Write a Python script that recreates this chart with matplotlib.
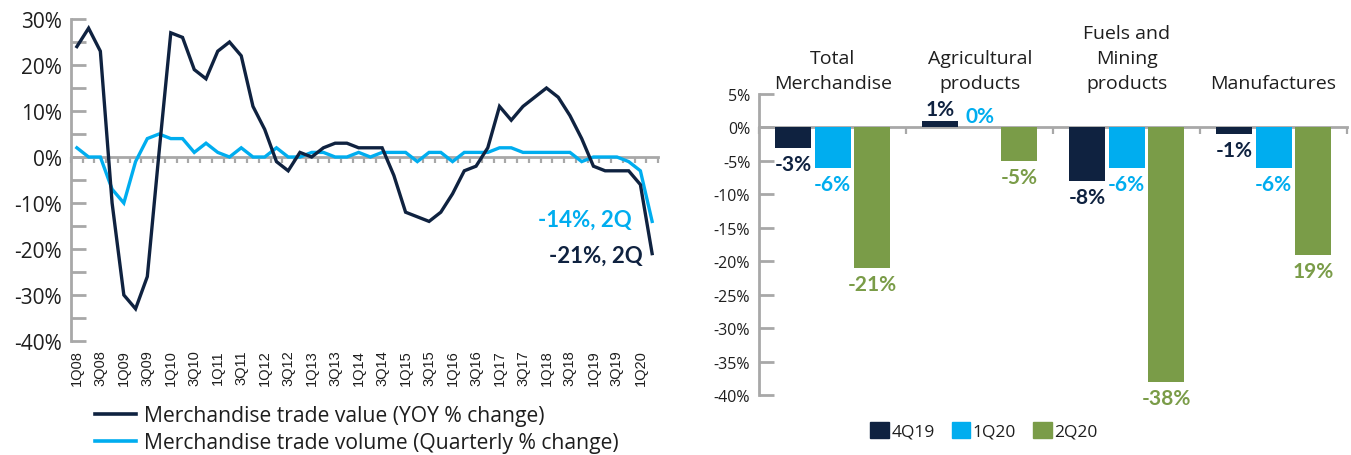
import matplotlib
matplotlib.use("Agg")
import matplotlib.pyplot as plt
import numpy as np
from matplotlib.ticker import MultipleLocator, FixedLocator, FuncFormatter, NullFormatter
from matplotlib.lines import Line2D
from matplotlib.patches import Patch

# ---------------- data ----------------
quarters = ["1Q08", "2Q08", "3Q08", "4Q08", "1Q09", "2Q09", "3Q09", "4Q09",
            "1Q10", "2Q10", "3Q10", "4Q10", "1Q11", "2Q11", "3Q11", "4Q11",
            "1Q12", "2Q12", "3Q12", "4Q12", "1Q13", "2Q13", "3Q13", "4Q13",
            "1Q14", "2Q14", "3Q14", "4Q14", "1Q15", "2Q15", "3Q15", "4Q15",
            "1Q16", "2Q16", "3Q16", "4Q16", "1Q17", "2Q17", "3Q17", "4Q17",
            "1Q18", "2Q18", "3Q18", "4Q18", "1Q19", "2Q19", "3Q19", "4Q19",
            "1Q20", "2Q20"]
value_yoy = [24, 28, 23, -10, -30, -33, -26, 1,
             27, 26, 19, 17, 23, 25, 22, 11,
             6, -1, -3, 1, 0, 2, 3, 3,
             2, 2, 2, -4, -12, -13, -14, -12,
             -8, -3, -2, 2, 11, 8, 11, 13,
             15, 13, 9, 4, -2, -3, -3, -3,
             -6, -21]
volume_qoq = [2, 0, 0, -7, -10, -1, 4, 5,
              4, 4, 1, 3, 1, 0, 2, 0,
              0, 2, 0, 0, 1, 1, 0, 0,
              1, 0, 1, 1, 1, -1, 1, 1,
              -1, 1, 1, 1, 2, 2, 1, 1,
              1, 1, 1, -1, 0, 0, 0, -1,
              -3, -14]
line_labels = ["Merchandise trade value (YOY % change)",
               "Merchandise trade volume (Quarterly % change)"]
end_labels = ["-21%, 2Q", "-14%, 2Q"]

categories = ["Total\nMerchandise", "Agricultural\nproducts",
              "Fuels and\nMining\nproducts", "Manufactures"]
periods = ["4Q19", "1Q20", "2Q20"]
bars_4q19 = [-3, 1, -8, -1]
bars_1q20 = [-6, 0, -6, -6]
bars_2q20 = [-21, -5, -38, -19]
text_4q19 = ["-3%", "1%", "-8%", "-1%"]
text_1q20 = ["-6%", "0%", "-6%", "-6%"]
text_2q20 = ["-21%", "-5%", "-38%", "19%"]

# ---------------- style ----------------
NAVY = "#0f2240"
CYAN = "#00adef"
GREEN = "#7a9c48"
GRAY = "#a8a8a8"
TXT = "#1e1e1e"
REG = ["Open Sans", "DejaVu Sans"]
BOLD = ["Lato", "DejaVu Sans"]
plt.rcParams["font.family"] = REG
plt.rcParams["text.color"] = TXT

W, H = 1351, 456
fig = plt.figure(figsize=(W / 100, H / 100), dpi=100)


def rect(x0, y0, x1, y1):
    return [x0 / W, 1 - y1 / H, (x1 - x0) / W, (y1 - y0) / H]


pct = FuncFormatter(lambda v, p: f"{v:.0f}%")

# ---------------- left: lines ----------------
ax1 = fig.add_axes(rect(71, 20, 658, 342))
xq = np.arange(len(quarters))
ax1.plot(xq, volume_qoq, color=CYAN, lw=2.4, solid_joinstyle="miter", zorder=3)
ax1.plot(xq, value_yoy, color=NAVY, lw=2.4, solid_joinstyle="miter", zorder=4)
ax1.set_xlim(-0.5, len(quarters) - 0.5)
ax1.set_ylim(-40, 30)
for s in ["top", "right", "bottom"]:
    ax1.spines[s].set_visible(False)
ax1.spines["left"].set_color(GRAY)
ax1.spines["left"].set_linewidth(2)
ax1.yaxis.set_major_locator(MultipleLocator(10))
ax1.yaxis.set_minor_locator(MultipleLocator(5))
ax1.yaxis.set_major_formatter(pct)
ax1.tick_params(axis="y", which="both", direction="in", length=10.8, width=2,
                color=GRAY, pad=6.5, labelsize=15, labelcolor=TXT)
ax1.set_xticks(xq[::2])
ax1.set_xticklabels(quarters[::2], rotation=90, fontsize=10.5,
                    family="Liberation Sans", color=TXT)
ax1.tick_params(axis="x", length=0, pad=6)
y0, y1 = ax1.get_ylim()
sec1 = ax1.secondary_xaxis((0 - y0) / (y1 - y0))
sec1.set_alignment("bottom")
sec1.xaxis.set_major_locator(FixedLocator(np.arange(-0.5, len(quarters), 1.0)))
sec1.xaxis.set_major_formatter(NullFormatter())
sec1.tick_params(axis="x", direction="out", length=4.5, width=1.6, color=GRAY)
for s in sec1.spines.values():
    s.set_color(GRAY)
    s.set_linewidth(2)

ax1.annotate(end_labels[1], xy=(xq[-1], volume_qoq[-1]), xytext=(-15, 1.5),
             textcoords="offset points", ha="right", va="center",
             color=CYAN, fontsize=16, fontweight="bold", family=BOLD)
ax1.annotate(end_labels[0], xy=(xq[-1], value_yoy[-1]), xytext=(-7, -1.5),
             textcoords="offset points", ha="right", va="center",
             color=NAVY, fontsize=16, fontweight="bold", family=BOLD)

handles = [Line2D([], [], color=NAVY, lw=2.6), Line2D([], [], color=CYAN, lw=2.6)]
fig.legend(handles, line_labels, loc="upper left",
           bbox_to_anchor=(95 / W, 1 - 406 / H), frameon=False, fontsize=15.2,
           handlelength=1.95, handletextpad=0.38, labelspacing=0.3,
           borderpad=0, borderaxespad=0)

# ---------------- right: bars ----------------
ax2 = fig.add_axes(rect(759.3, 95, 1347, 396))
xc = np.arange(len(categories))
bw, off = 0.245, 0.27
series = [(bars_4q19, text_4q19, NAVY), (bars_1q20, text_1q20, CYAN),
          (bars_2q20, text_2q20, GREEN)]
for k, (vals, texts, col) in enumerate(series):
    xs = xc + (k - 1) * off
    ax2.bar(xs, vals, bw, color=col, zorder=2)
    for xi, v, t in zip(xs, vals, texts):
        up = v >= 0
        ax2.annotate(t, xy=(xi, v), xytext=(0, 1 if up else -4.5),
                     textcoords="offset points", ha="center",
                     va="bottom" if up else "top", color=col,
                     fontsize=15, fontweight="bold", family=BOLD)
ax2.set_xlim(-0.5, len(categories) - 0.5)
ax2.set_ylim(-40, 5)
for s in ["top", "right", "bottom"]:
    ax2.spines[s].set_visible(False)
ax2.spines["left"].set_color(GRAY)
ax2.spines["left"].set_linewidth(2)
ax2.yaxis.set_major_locator(MultipleLocator(5))
ax2.yaxis.set_major_formatter(pct)
ax2.tick_params(axis="y", direction="in", length=10.5, width=2, color=GRAY,
                pad=6.5, labelsize=11.5, labelcolor=TXT)
ax2.set_xticks([])
b0, b1 = ax2.get_ylim()
sec2 = ax2.secondary_xaxis((0 - b0) / (b1 - b0))
sec2.set_alignment("bottom")
sec2.xaxis.set_major_locator(FixedLocator(np.arange(-0.5, len(categories), 1.0)))
sec2.xaxis.set_major_formatter(NullFormatter())
sec2.tick_params(axis="x", direction="out", length=5, width=1.6, color=GRAY)
for s in sec2.spines.values():
    s.set_color(GRAY)
    s.set_linewidth(2)
for i, c in enumerate(categories):
    ax2.annotate(c, xy=(xc[i], 1), xycoords=ax2.get_xaxis_transform(),
                 xytext=(0, 1.5), textcoords="offset points", ha="center",
                 va="bottom", fontsize=14, linespacing=1.5)

phandles = [Patch(color=c) for c in (NAVY, CYAN, GREEN)]
fig.legend(phandles, periods, loc="center", ncol=3,
           bbox_to_anchor=(984 / W, 1 - 432 / H), frameon=False, fontsize=12.5,
           handlelength=1.05, handleheight=1.05, handletextpad=0.15,
           columnspacing=1.0, borderpad=0, borderaxespad=0)

fig.savefig("out.png", dpi=100)
